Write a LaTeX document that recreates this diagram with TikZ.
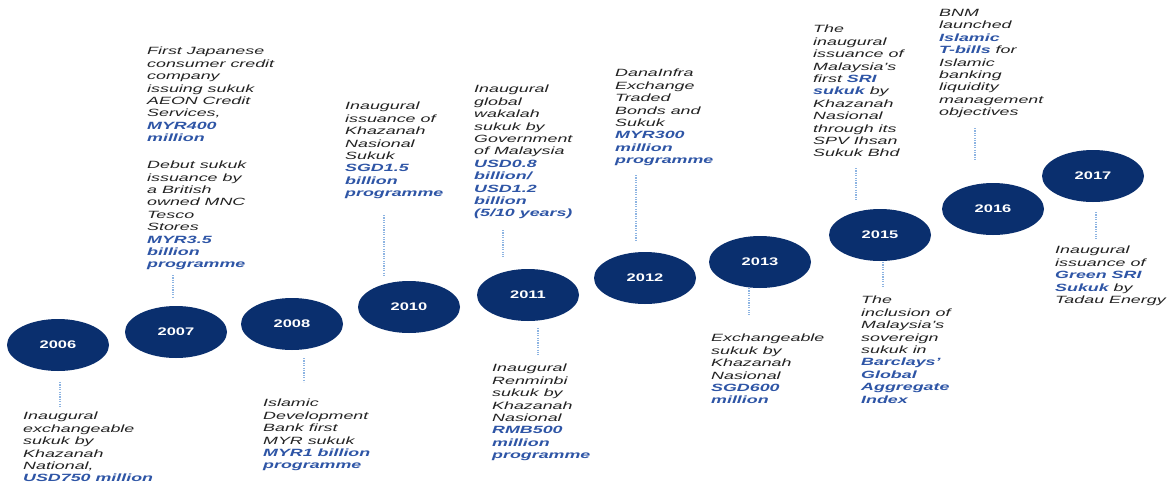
\documentclass[tikz,border=0pt]{standalone}
\usepackage{fontspec}
\setmainfont{Liberation Sans}[FakeStretch=1.7]
\newfontfamily\yearfont{Liberation Sans}[FakeStretch=1.5]
\usepackage{tikz}
\usetikzlibrary{shapes.geometric,backgrounds}
\definecolor{navy}{RGB}{10,47,110}
\definecolor{amtblue}{RGB}{46,85,166}
\definecolor{notegrey}{RGB}{34,34,34}
\definecolor{leaderblue}{RGB}{141,180,226}
\newcommand{\amt}[1]{\textcolor{amtblue}{\bfseries #1}}

\begin{document}
\begin{tikzpicture}[x=1pt,y=-1pt,
  yearbox/.style={ellipse,fill=navy,text=white,minimum width=102pt,minimum height=52pt,inner sep=0pt,
    font=\yearfont\fontsize{11}{13}\selectfont\bfseries},
  note/.style={anchor=north west,inner sep=0pt,align=left,text=notegrey,
    font=\fontsize{10.5}{12.4}\selectfont\itshape},
  leader/.style={draw=leaderblue,line width=1.3pt,dash pattern=on 1.2pt off 1.2pt},
  track/.style={line width=4.5pt,draw=gray!65}]
\fill[white] (0,0) rectangle (1171,488);
\useasboundingbox (0,0) rectangle (1171,488);

\foreach \yr/\xx/\yy in {2006/58/345,2007/176/332,2008/292/324,2010/409/307,2011/528/295,
  2012/645/278,2013/760/262,2015/880/235,2016/993/209,2017/1093/176}
  \node[yearbox] (Y\yr) at (\xx,\yy) {\yr};

\begin{scope}[on background layer]
\draw[track,draw=gray!25,line width=5pt,transform canvas={yshift=-2.5pt}] (Y2006.center) -- (Y2007.center) -- (Y2008.center) -- (Y2010.center) -- (Y2011.center) -- (Y2012.center) -- (Y2013.center) -- (Y2015.center) -- (Y2016.center) -- (Y2017.center);
\draw[track] (Y2006.center) -- (Y2007.center) -- (Y2008.center) -- (Y2010.center) -- (Y2011.center) -- (Y2012.center) -- (Y2013.center) -- (Y2015.center) -- (Y2016.center) -- (Y2017.center);
\end{scope}

\foreach \nm/\xx/\ya/\yb in {L06/60/382/407,L07/173/275/297,L08/304/358/382,L10/384/215/277,
  L11u/503/230/257,L11d/538/328/355,L12/636/175/240,L13/749/288/315,
  L15u/856/168/200,L15d/883/262/288,L16/975/128/160,L17/1096/212/239}
{
  \coordinate (\nm a) at (\xx,\ya);
  \coordinate (\nm b) at (\xx,\yb);
  \draw[leader] (\nm a) -- (\nm b);
}

\node[note] (N2006) at (23,412) {Inaugural\\exchangeable\\sukuk by\\Khazanah\\National,\\\amt{USD750 million}};
\node[note] (N2007) at (147,47) {First Japanese\\consumer credit\\company\\issuing sukuk\\AEON Credit\\Services,\\\amt{MYR400}\\\amt{million}\\[14.6pt]Debut sukuk\\issuance by\\a British\\owned MNC\\Tesco\\Stores\\\amt{MYR3.5}\\\amt{billion}\\\amt{programme}};
\node[note] (N2008) at (263,399) {Islamic\\Development\\Bank first\\MYR sukuk\\\amt{MYR1 billion}\\\amt{programme}};
\node[note] (N2010) at (345,102) {Inaugural\\issuance of\\Khazanah\\Nasional\\Sukuk\\\amt{SGD1.5}\\\amt{billion}\\\amt{programme}};
\node[note] (N2011a) at (474,85) {Inaugural\\global\\wakalah\\sukuk by\\Government\\of Malaysia\\\amt{USD0.8}\\\amt{billion/}\\\amt{USD1.2}\\\amt{billion}\\\amt{(5/10 years)}};
\node[note] (N2011b) at (492,364) {Inaugural\\Renminbi\\sukuk by\\Khazanah\\Nasional\\\amt{RMB500}\\\amt{million}\\\amt{programme}};
\node[note] (N2012) at (615,69) {DanaInfra\\Exchange\\Traded\\Bonds and\\Sukuk\\\amt{MYR300}\\\amt{million}\\\amt{programme}};
\node[note] (N2013) at (711,334) {Exchangeable\\sukuk by\\Khazanah\\Nasional\\\amt{SGD600}\\\amt{million}};
\node[note] (N2015a) at (813,25) {The\\inaugural\\issuance of\\Malaysia’s\\first \amt{SRI}\\\amt{sukuk} by\\Khazanah\\Nasional\\through its\\SPV Ihsan\\Sukuk Bhd};
\node[note] (N2015b) at (861,296) {The\\inclusion of\\Malaysia’s\\sovereign\\sukuk in\\\amt{Barclays’}\\\amt{Global}\\\amt{Aggregate}\\\amt{Index}};
\node[note] (N2016) at (939,9) {BNM\\launched\\\amt{Islamic}\\\amt{T-bills} for\\Islamic\\banking\\liquidity\\management\\objectives};
\node[note] (N2017) at (1055,246) {Inaugural\\issuance of\\\amt{Green SRI}\\\amt{Sukuk} by\\Tadau Energy};
\end{tikzpicture}
\end{document}
